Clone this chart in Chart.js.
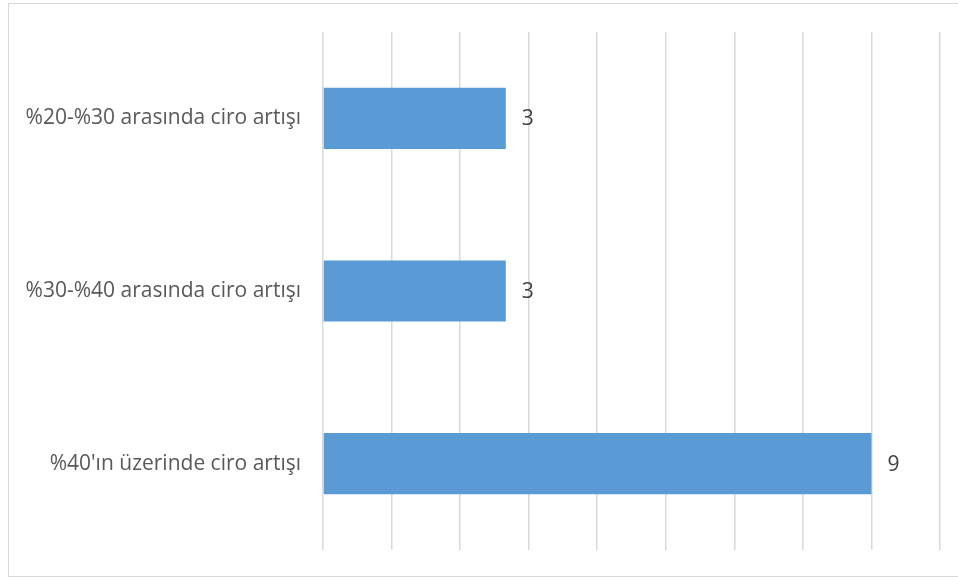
<!DOCTYPE html>
<html>
<head>
<meta charset="utf-8">
<script src="https://cdn.jsdelivr.net/npm/chart.js@4"></script>
<style>
  html, body { margin: 0; padding: 0; background: #fff; }
  #wrap { position: relative; width: 958px; height: 579px; overflow: hidden; }
  #frame { position: absolute; left: 8px; top: 3px; width: 960px; height: 574px; border: 1px solid #d9d9d9; box-sizing: border-box; pointer-events: none; }
  canvas { position: absolute; left: 0; top: 0; }
</style>
</head>
<body>
<div id="wrap">
  <canvas id="ciroChart" width="958" height="579"></canvas>
  <div id="frame"></div>
</div>
<script>
// Kategoriler ve değerler
const categories = [
    '%20-%30 arasında ciro artışı',
    '%30-%40 arasında ciro artışı',
    "%40'ın üzerinde ciro artışı",
];
const values = [3, 3, 9];

// Eksen ayarları (dikey çizgiler)
const axisStep = 1.125;
const axisMax = 10.125;

// Çubuk sonuna değer yazan eklenti
const valueLabels = {
    id: 'valueLabels',
    afterDatasetsDraw(chart) {
        const { ctx } = chart;
        const meta = chart.getDatasetMeta(0);
        ctx.save();
        ctx.font = '21px "Open Sans"';
        ctx.fillStyle = '#404040';
        ctx.textAlign = 'left';
        ctx.textBaseline = 'middle';
        meta.data.forEach((bar, i) => {
            ctx.fillText(String(values[i]), bar.x + 16, bar.y + 1);
        });
        ctx.restore();
    },
};

const ctx = document.getElementById('ciroChart').getContext('2d');
const ciroChart = new Chart(ctx, {
    type: 'bar',
    data: {
        labels: categories,
        datasets: [
            {
                data: values,
                backgroundColor: '#5b9bd5',
                borderWidth: 0,
                barPercentage: 0.354,
                categoryPercentage: 1,
            },
        ],
    },
    options: {
        indexAxis: 'y',
        responsive: false,
        animation: false,
        layout: {
            padding: { left: 8, top: 32, right: 18, bottom: 29 },
        },
        plugins: {
            legend: { display: false },
            tooltip: { enabled: false },
        },
        scales: {
            x: {
                min: 0,
                max: axisMax,
                ticks: { display: false, stepSize: axisStep },
                grid: { color: '#d9d9d9', lineWidth: 1.5, drawTicks: false },
                border: { display: false },
            },
            y: {
                grid: { display: false, drawTicks: false },
                border: { display: false },
                ticks: {
                    color: '#595959',
                    font: { family: 'Open Sans', size: 21 },
                    padding: 22,
                },
                afterFit(scale) {
                    scale.width = 315;
                    // etiket yüksekliğinden gelen ek boşluğu kaldır
                    scale.paddingTop = 0;
                    scale.paddingBottom = 0;
                },
            },
        },
    },
    plugins: [valueLabels],
});
</script>
</body>
</html>
